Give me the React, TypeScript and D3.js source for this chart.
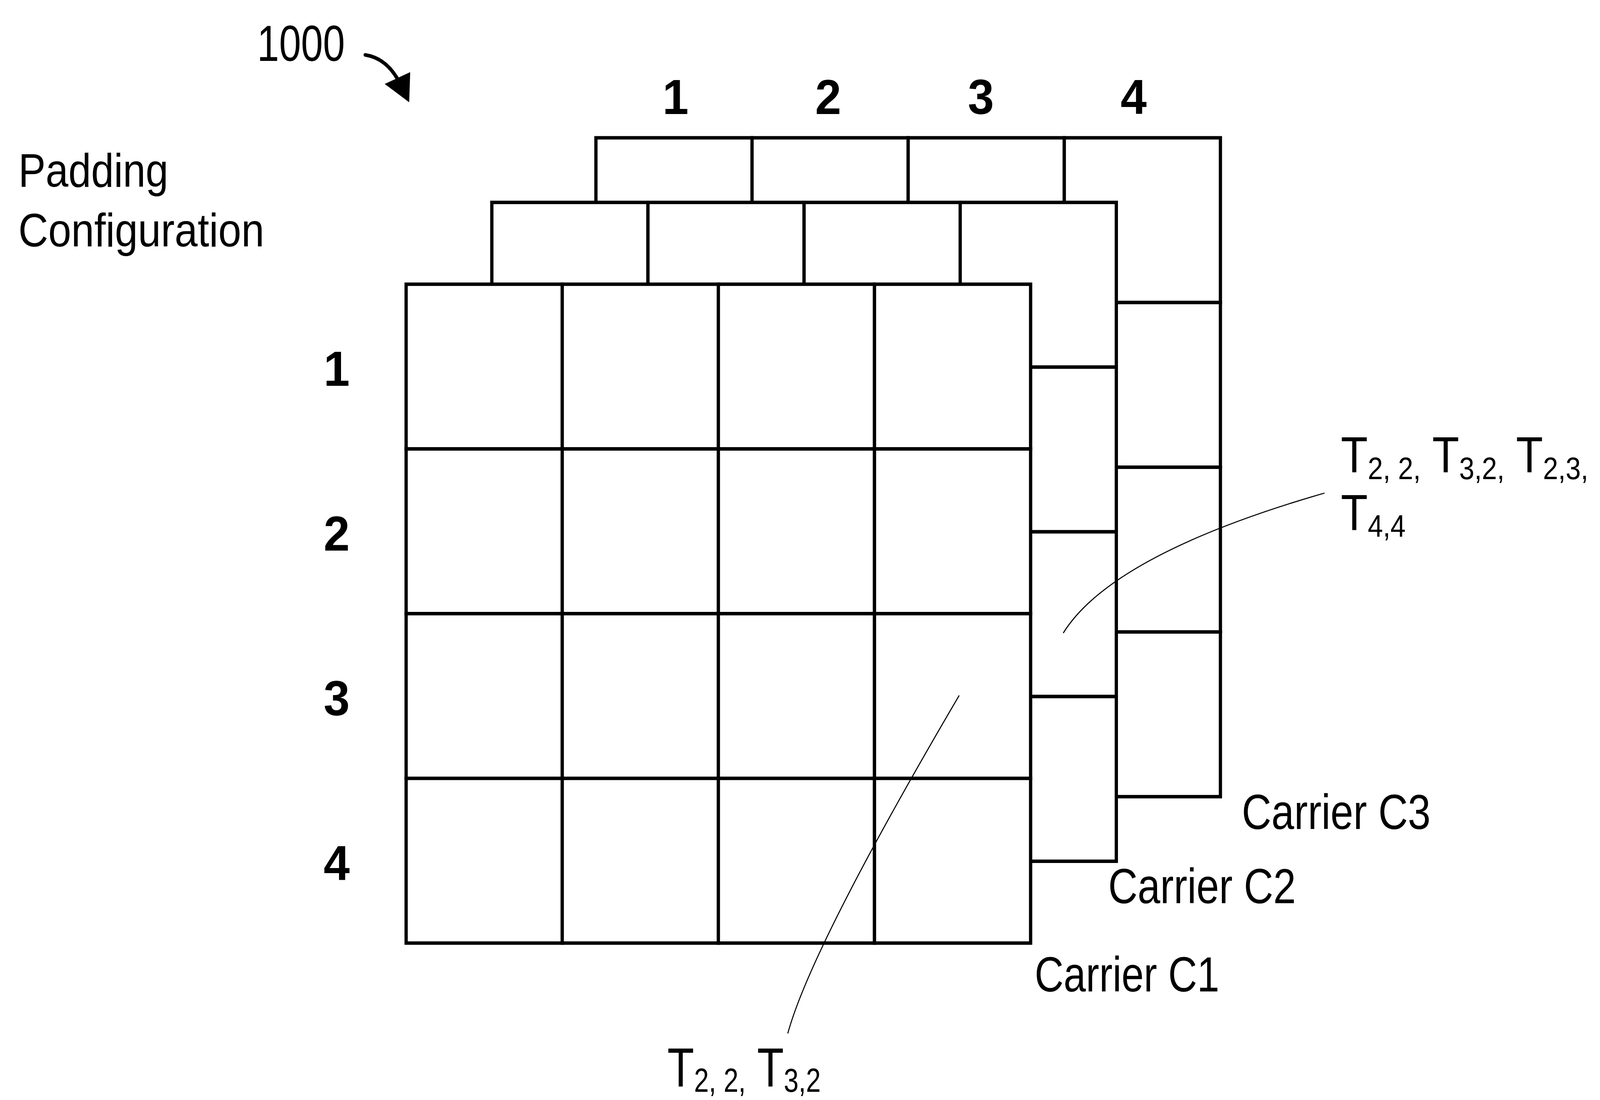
import * as d3 from 'd3';

// figure content
const FIGURE_ID = '1000';
const TITLE_LINES = ['Padding', 'Configuration'];
const ROWS = ['1', '2', '3', '4'];
const COLS = ['1', '2', '3', '4'];
const CARRIERS = ['Carrier C1', 'Carrier C2', 'Carrier C3'];
const UPPER_NOTE = [
  [['T', '2, 2,'], ['T', '3,2,'], ['T', '2,3,']],
  [['T', '4,4']],
];
const LOWER_NOTE = [[['T', '2, 2,'], ['T', '3,2']]];

// layout (in 1568-wide reference units)
const W = 1568;
const H = (1568 * 2817) / 4323;
const SIDE = 612;
const LAYER_ORIGIN = [
  { x: 398, y: 264 },
  { x: 482, y: 188 },
  { x: 584, y: 128 },
];
const CARRIER_LABEL = [
  { x: 1014, y: 921, w: 181 },
  { x: 1086, y: 839, w: 184 },
  { x: 1217, y: 770, w: 185 },
];
const FONT = '"Liberation Sans", Arial, Helvetica, sans-serif';
const STROKE = 3.2;

const cellScale = d3.scaleBand<string>().domain(COLS).range([0, SIDE]);
const rowScale = d3.scaleBand<string>().domain(ROWS).range([0, SIDE]);
const colLabelX = d3.scalePoint<string>().domain(COLS).range([662, 1111]);

function Note({ lines, x, y, lh, sx, size, subSize, shift }: {
  lines: string[][][]; x: number; y: number; lh: number; sx: number; size: number; subSize: number; shift: number;
}) {
  return (
    <g transform={`translate(${x},${y}) scale(${sx},1)`}>
      {lines.map((parts, li) => (
        <text key={li} x={0} y={li * lh} fontSize={size} fontFamily={FONT} fill="#000">
          {parts.map(([base, sub], i) => [
            <tspan key={`b${i}`} dy={i ? -shift : 0}>{(i ? ' ' : '') + base}</tspan>,
            <tspan key={`s${i}`} dy={shift} fontSize={subSize}>{sub}</tspan>,
          ])}
        </text>
      ))}
    </g>
  );
}

export default function App() {
  const layers = CARRIERS.map((name, i) => ({ name, ...LAYER_ORIGIN[i], label: CARRIER_LABEL[i] }));
  const upperLeader = d3.path();
  upperLeader.moveTo(1298, 458);
  upperLeader.quadraticCurveTo(1090, 515, 1042, 588);
  const lowerLeader = d3.path();
  lowerLeader.moveTo(940, 646);
  lowerLeader.quadraticCurveTo(795, 880, 772, 960);
  const arrow = d3.path();
  arrow.moveTo(358, 51);
  arrow.quadraticCurveTo(378, 54, 390, 74);

  return (
    <svg viewBox={`0 0 ${W} ${H}`} preserveAspectRatio="none"
      style={{ position: 'fixed', left: 0, top: 0, width: '100vw', height: '100vh', background: '#fff', display: 'block' }}>
      <rect x={0} y={0} width={W} height={H} fill="#fff" />

      {/* figure reference */}
      <text x={252} y={56.5} fontSize={47} fontFamily={FONT} textLength={86} lengthAdjust="spacingAndGlyphs">{FIGURE_ID}</text>
      <path d={arrow.toString()} fill="none" stroke="#000" strokeWidth={3.4} strokeLinecap="round" />
      <polygon points="377,78 402,67 401,95" fill="#000" />

      {/* title */}
      <text x={18} y={173.5} fontSize={44} fontFamily={FONT} textLength={147} lengthAdjust="spacingAndGlyphs">{TITLE_LINES[0]}</text>
      <text x={18} y={229} fontSize={44} fontFamily={FONT} textLength={241} lengthAdjust="spacingAndGlyphs">{TITLE_LINES[1]}</text>

      {/* column labels */}
      {COLS.map((c) => (
        <text key={c} x={colLabelX(c)} y={106} fontSize={46} fontWeight={700} fontFamily={FONT} textAnchor="middle">{c}</text>
      ))}

      {/* carrier grids, back to front */}
      {[...layers].reverse().map((layer) => (
        <g key={layer.name} transform={`translate(${layer.x},${layer.y})`}>
          {ROWS.map((r) => COLS.map((c) => (
            <rect key={`${r}-${c}`} x={cellScale(c)} y={rowScale(r)} width={cellScale.bandwidth()} height={rowScale.bandwidth()}
              fill="#fff" stroke="#000" strokeWidth={STROKE} />
          )))}
        </g>
      ))}

      {/* row labels */}
      {ROWS.map((r) => (
        <text key={r} x={330} y={LAYER_ORIGIN[0].y + (rowScale(r) ?? 0) + rowScale.bandwidth() / 2 + 18}
          fontSize={46} fontWeight={700} fontFamily={FONT} textAnchor="middle">{r}</text>
      ))}

      {/* carrier labels */}
      {layers.map((layer) => (
        <text key={layer.name} x={layer.label.x} y={layer.label.y} fontSize={46} fontFamily={FONT}
          textLength={layer.label.w} lengthAdjust="spacingAndGlyphs">{layer.name}</text>
      ))}

      {/* leaders */}
      <path d={upperLeader.toString()} fill="none" stroke="#000" strokeWidth={1} />
      <path d={lowerLeader.toString()} fill="none" stroke="#000" strokeWidth={1} />

      <Note lines={UPPER_NOTE} x={1314} y={439} lh={53.5} sx={0.92} size={47} subSize={29} shift={6} />
      <Note lines={LOWER_NOTE} x={654} y={1009} lh={53} sx={0.84} size={51} subSize={31} shift={5} />
    </svg>
  );
}
